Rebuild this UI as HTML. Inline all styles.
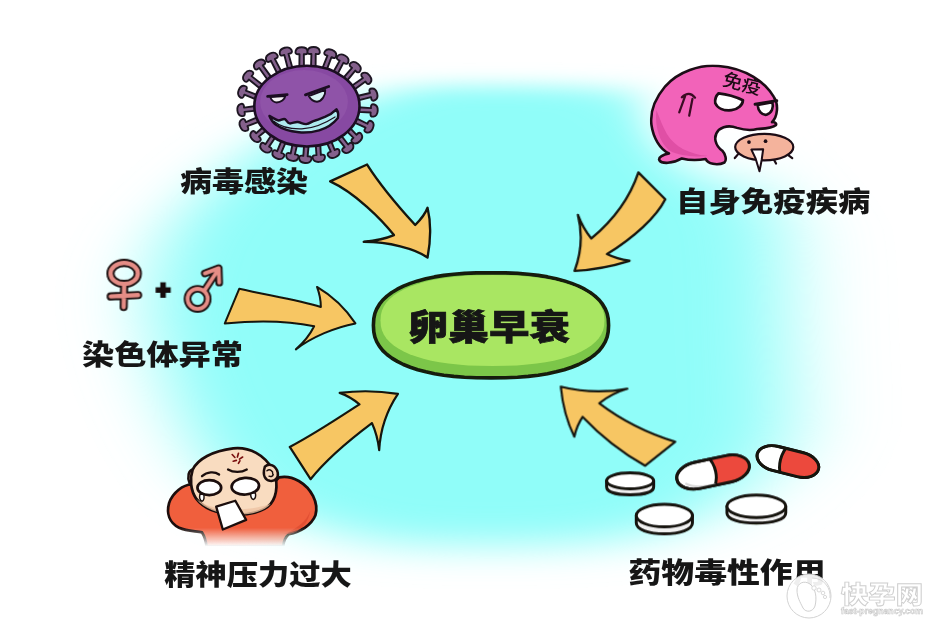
<!DOCTYPE html>
<html lang="zh-CN">
<head>
<meta charset="utf-8">
<title>卵巢早衰</title>
<style>
html,body{margin:0;padding:0;background:#fff;}
body{width:935px;height:625px;overflow:hidden;font-family:"Liberation Sans","Noto Sans CJK SC",sans-serif;}
svg{display:block;}
.lbl{font-family:"Liberation Sans","Noto Sans CJK SC",sans-serif;font-weight:900;fill:#161616;}
.ttl{font-family:"Liberation Sans","Noto Sans CJK SC",sans-serif;font-weight:900;fill:#141414;}
.ar{fill:#f7c663;stroke:#15150f;stroke-width:10.5;stroke-linejoin:round;}
</style>
</head>
<body>
<svg width="935" height="625" viewBox="0 0 935 625">
<defs>
<filter id="halo" x="-50%" y="-50%" width="200%" height="200%"><feGaussianBlur stdDeviation="20"/></filter>
<filter id="bTL" x="-30%" y="-30%" width="160%" height="160%"><feGaussianBlur stdDeviation="40 10"/></filter>
<filter id="bTR" x="-30%" y="-30%" width="160%" height="160%"><feGaussianBlur stdDeviation="47 10"/></filter>
<filter id="bBL" x="-30%" y="-30%" width="160%" height="160%"><feGaussianBlur stdDeviation="40 18"/></filter>
<filter id="bBR" x="-30%" y="-30%" width="160%" height="160%"><feGaussianBlur stdDeviation="47 18"/></filter>
<filter id="soft" x="0" y="0" width="935" height="625" filterUnits="userSpaceOnUse"><feGaussianBlur stdDeviation="0.55"/></filter>
<radialGradient id="egg" cx="0.45" cy="0.4" r="0.62">
<stop offset="0" stop-color="#b2e86a"/><stop offset="0.78" stop-color="#a7e162"/><stop offset="1" stop-color="#7cc848"/>
</radialGradient>
</defs>
<rect width="935" height="625" fill="#ffffff"/>
<!-- background blob -->
<defs>
<clipPath id="cTL"><rect x="-50" y="-50" width="530" height="375"/></clipPath>
<clipPath id="cTR"><rect x="480" y="-50" width="530" height="375"/></clipPath>
<clipPath id="cBL"><rect x="-50" y="325" width="530" height="400"/></clipPath>
<clipPath id="cBR"><rect x="480" y="325" width="530" height="400"/></clipPath>
</defs>
<g clip-path="url(#cTL)"><g filter="url(#bTL)"><path d="M420 85 L600 87 C650 90 690 110 718 148 C742 178 768 200 780 228 C785 255 786 290 786 315 C787 350 790 390 790 420 C788 440 782 450 775 458 C765 472 752 482 740 492 C725 505 710 514 695 521 C670 531 640 540 600 543 C560 546 530 546 500 546 C460 546 430 546 400 544 C370 542 350 538 330 531 C300 523 265 512 240 498 C225 488 218 480 213 472 C200 452 188 435 180 415 C174 400 168 390 166 382 C158 355 150 325 150 300 C150 280 156 256 170 232 C188 206 216 180 250 154 C292 124 356 97 420 85Z" fill="#90fdf9"/></g></g>
<g clip-path="url(#cTR)"><g filter="url(#bTR)"><path d="M420 85 L600 87 C650 90 690 110 718 148 C742 178 768 200 780 228 C785 255 786 290 786 315 C787 350 790 390 790 420 C788 440 782 450 775 458 C765 472 752 482 740 492 C725 505 710 514 695 521 C670 531 640 540 600 543 C560 546 530 546 500 546 C460 546 430 546 400 544 C370 542 350 538 330 531 C300 523 265 512 240 498 C225 488 218 480 213 472 C200 452 188 435 180 415 C174 400 168 390 166 382 C158 355 150 325 150 300 C150 280 156 256 170 232 C188 206 216 180 250 154 C292 124 356 97 420 85Z" fill="#90fdf9"/></g></g>
<g clip-path="url(#cBL)"><g filter="url(#bBL)"><path d="M420 85 L600 87 C650 90 690 110 718 148 C742 178 768 200 780 228 C785 255 786 290 786 315 C787 350 790 390 790 420 C788 440 782 450 775 458 C765 472 752 482 740 492 C725 505 710 514 695 521 C670 531 640 540 600 543 C560 546 530 546 500 546 C460 546 430 546 400 544 C370 542 350 538 330 531 C300 523 265 512 240 498 C225 488 218 480 213 472 C200 452 188 435 180 415 C174 400 168 390 166 382 C158 355 150 325 150 300 C150 280 156 256 170 232 C188 206 216 180 250 154 C292 124 356 97 420 85Z" fill="#90fdf9"/></g></g>
<g clip-path="url(#cBR)"><g filter="url(#bBR)"><path d="M420 85 L600 87 C650 90 690 110 718 148 C742 178 768 200 780 228 C785 255 786 290 786 315 C787 350 790 390 790 420 C788 440 782 450 775 458 C765 472 752 482 740 492 C725 505 710 514 695 521 C670 531 640 540 600 543 C560 546 530 546 500 546 C460 546 430 546 400 544 C370 542 350 538 330 531 C300 523 265 512 240 498 C225 488 218 480 213 472 C200 452 188 435 180 415 C174 400 168 390 166 382 C158 355 150 325 150 300 C150 280 156 256 170 232 C188 206 216 180 250 154 C292 124 356 97 420 85Z" fill="#90fdf9"/></g></g>
<ellipse cx="738" cy="112" rx="95" ry="62" fill="#ffffff" filter="url(#halo)"/>
<g filter="url(#soft)">
<!--ARROWS-->
<g class="ar">
<g transform="translate(310,150) scale(0.2239)"><path d="M90 140 L255 65 C290 120 360 215 470 335 C495 310 515 285 525 258 C540 320 540 400 525 480 C470 440 350 410 240 410 C290 405 340 395 375 380 C320 310 200 190 90 140Z"/></g>
<g transform="translate(560,150) scale(0.2239)"><path d="M350 100 L470 220 C430 300 330 390 210 465 C240 480 275 490 310 495 C230 520 150 535 65 540 C95 460 100 370 80 290 C95 330 115 365 140 395 C230 320 310 220 350 100Z"/></g>
<g transform="translate(220,260) scale(0.1921)"><path d="M100 150 C250 185 400 205 525 245 C525 210 518 175 505 140 C590 190 655 255 705 330 C600 350 480 400 395 465 C435 430 468 390 490 345 C350 315 180 315 25 330 Z"/></g>
<g transform="translate(270,370) scale(0.208)"><path d="M95 370 C210 310 330 230 430 165 C400 140 370 122 335 110 C430 98 525 100 615 115 C565 190 530 290 525 385 C520 340 508 295 490 255 C390 330 270 430 195 525Z"/></g>
<g transform="translate(540,370) scale(0.208)"><path d="M100 80 C200 105 320 108 420 90 C370 105 322 130 285 160 C390 240 520 305 650 345 L505 460 C400 400 290 315 205 225 C185 255 172 288 165 320 C130 250 108 165 100 80Z"/></g>
</g>
<!--CENTER-->
<g>
<path d="M608.6 325.3 L608.2 331.9 L607.1 337.2 L605.2 341.9 L602.5 346.4 L599.2 350.6 L595.0 354.5 L590.2 358.1 L584.7 361.4 L578.6 364.5 L571.7 367.2 L564.3 369.7 L556.2 371.8 L547.5 373.7 L538.2 375.2 L528.2 376.4 L517.5 377.2 L505.7 377.7 L491.0 377.9 L476.3 377.7 L464.5 377.2 L453.8 376.4 L443.8 375.2 L434.5 373.7 L425.8 371.8 L417.7 369.7 L410.3 367.2 L403.4 364.5 L397.3 361.4 L391.8 358.1 L387.0 354.5 L382.8 350.6 L379.5 346.4 L376.8 341.9 L374.9 337.2 L373.8 331.9 L373.4 325.3 L373.8 318.7 L374.9 313.4 L376.8 308.7 L379.5 304.2 L382.8 300.0 L387.0 296.1 L391.8 292.5 L397.3 289.2 L403.4 286.1 L410.3 283.4 L417.7 280.9 L425.8 278.8 L434.5 276.9 L443.8 275.4 L453.8 274.2 L464.5 273.4 L476.3 272.9 L491.0 272.7 L505.7 272.9 L517.5 273.4 L528.2 274.2 L538.2 275.4 L547.5 276.9 L556.2 278.8 L564.3 280.9 L571.7 283.4 L578.6 286.1 L584.7 289.2 L590.2 292.5 L595.0 296.1 L599.2 300.0 L602.5 304.2 L605.2 308.7 L607.1 313.4 L608.2 318.7Z" fill="#7cc648" stroke="#141c0c" stroke-width="3.6" stroke-linejoin="round"/>
<path d="M604.5 320.5 L604.1 326.0 L603.0 330.4 L601.2 334.5 L598.6 338.4 L595.3 342.0 L591.3 345.4 L586.7 348.6 L581.3 351.5 L575.4 354.2 L568.8 356.6 L561.6 358.8 L553.8 360.7 L545.5 362.3 L536.6 363.6 L527.1 364.6 L516.9 365.4 L505.9 365.8 L492.5 366.0 L479.1 365.8 L468.1 365.4 L457.9 364.6 L448.4 363.6 L439.5 362.3 L431.2 360.7 L423.4 358.8 L416.2 356.6 L409.6 354.2 L403.7 351.5 L398.3 348.6 L393.7 345.4 L389.7 342.0 L386.4 338.4 L383.8 334.5 L382.0 330.4 L380.9 326.0 L380.5 320.5 L380.9 315.0 L382.0 310.6 L383.8 306.5 L386.4 302.6 L389.7 299.0 L393.7 295.6 L398.3 292.4 L403.7 289.5 L409.6 286.8 L416.2 284.4 L423.4 282.2 L431.2 280.3 L439.5 278.7 L448.4 277.4 L457.9 276.4 L468.1 275.6 L479.1 275.2 L492.5 275.0 L505.9 275.2 L516.9 275.6 L527.1 276.4 L536.6 277.4 L545.5 278.7 L553.8 280.3 L561.6 282.2 L568.8 284.4 L575.4 286.8 L581.3 289.5 L586.7 292.4 L591.3 295.6 L595.3 299.0 L598.6 302.6 L601.2 306.5 L603.0 310.6 L604.1 315.0Z" fill="#a9e662"/>
<text class="ttl" x="408" y="339.5" font-size="35" textLength="162" stroke="#141414" stroke-width="0.7" lengthAdjust="spacingAndGlyphs">卵巢早衰</text>
</g>
<!--VIRUS-->
<g transform="translate(250,60) scale(0.1441)">
<g fill="#84618c" stroke="#1c1420" stroke-width="13" stroke-linejoin="round">
<g transform="translate(758.6,344.6) rotate(3.4)"><path d="M-12 -16 L80 -15 C76 -40 86 -46 102 -42 C126 -36 128 -16 128 0 C128 16 126 36 102 42 C86 46 76 40 80 15 L-12 16Z"/></g>
<g transform="translate(735.2,421.4) rotate(25.3)"><path d="M-12 -16 L81 -15 C77 -40 87 -46 103 -42 C127 -36 129 -16 129 0 C129 16 127 36 103 42 C87 46 77 40 81 15 L-12 16Z"/></g>
<g transform="translate(687.6,487.4) rotate(45.7)"><path d="M-12 -16 L59 -15 C55 -40 65 -46 81 -42 C105 -36 107 -16 107 0 C107 16 105 36 81 42 C65 46 55 40 59 15 L-12 16Z"/></g>
<g transform="translate(624.1,538.0) rotate(52.4)"><path d="M-12 -16 L73 -15 C69 -40 79 -46 95 -42 C119 -36 121 -16 121 0 C121 16 119 36 95 42 C79 46 69 40 73 15 L-12 16Z"/></g>
<g transform="translate(550.4,573.4) rotate(67.3)"><path d="M-12 -16 L62 -15 C58 -40 68 -46 84 -42 C108 -36 110 -16 110 0 C110 16 108 36 84 42 C68 46 58 40 62 15 L-12 16Z"/></g>
<g transform="translate(472.4,593.6) rotate(86.5)"><path d="M-12 -16 L66 -15 C62 -40 72 -46 88 -42 C112 -36 114 -16 114 0 C114 16 112 36 88 42 C72 46 62 40 66 15 L-12 16Z"/></g>
<g transform="translate(390.4,600.0) rotate(94.6)"><path d="M-12 -16 L67 -15 C63 -40 73 -46 89 -42 C113 -36 115 -16 115 0 C115 16 113 36 89 42 C73 46 63 40 67 15 L-12 16Z"/></g>
<g transform="translate(309.8,592.3) rotate(102.1)"><path d="M-12 -16 L61 -15 C57 -40 67 -46 83 -42 C107 -36 109 -16 109 0 C109 16 107 36 83 42 C67 46 57 40 61 15 L-12 16Z"/></g>
<g transform="translate(231.3,570.3) rotate(112.7)"><path d="M-12 -16 L74 -15 C70 -40 80 -46 96 -42 C120 -36 122 -16 122 0 C122 16 120 36 96 42 C80 46 70 40 74 15 L-12 16Z"/></g>
<g transform="translate(158.8,533.5) rotate(123.3)"><path d="M-12 -16 L71 -15 C67 -40 77 -46 93 -42 C117 -36 119 -16 119 0 C119 16 117 36 93 42 C77 46 67 40 71 15 L-12 16Z"/></g>
<g transform="translate(97.0,481.7) rotate(139.4)"><path d="M-12 -16 L59 -15 C55 -40 65 -46 81 -42 C105 -36 107 -16 107 0 C107 16 105 36 81 42 C65 46 55 40 59 15 L-12 16Z"/></g>
<g transform="translate(51.6,414.8) rotate(158.0)"><path d="M-12 -16 L81 -15 C77 -40 87 -46 103 -42 C127 -36 129 -16 129 0 C129 16 127 36 103 42 C87 46 77 40 81 15 L-12 16Z"/></g>
<g transform="translate(30.7,336.7) rotate(173.2)"><path d="M-12 -16 L71 -15 C67 -40 77 -46 93 -42 C117 -36 119 -16 119 0 C119 16 117 36 93 42 C77 46 67 40 71 15 L-12 16Z"/></g>
<g transform="translate(39.8,255.5) rotate(-158.5)"><path d="M-12 -16 L79 -15 C75 -40 85 -46 101 -42 C125 -36 127 -16 127 0 C127 16 125 36 101 42 C85 46 75 40 79 15 L-12 16Z"/></g>
<g transform="translate(76.3,183.6) rotate(-141.3)"><path d="M-12 -16 L96 -15 C92 -40 102 -46 118 -42 C142 -36 144 -16 144 0 C144 16 142 36 118 42 C102 46 92 40 96 15 L-12 16Z"/></g>
<g transform="translate(132.9,125.1) rotate(-125.8)"><path d="M-12 -16 L97 -15 C93 -40 103 -46 119 -42 C143 -36 145 -16 145 0 C145 16 143 36 119 42 C103 46 93 40 97 15 L-12 16Z"/></g>
<g transform="translate(201.4,82.7) rotate(-116.9)"><path d="M-12 -16 L94 -15 C90 -40 100 -46 116 -42 C140 -36 142 -16 142 0 C142 16 140 36 116 42 C100 46 90 40 94 15 L-12 16Z"/></g>
<g transform="translate(277.9,54.8) rotate(-105.2)"><path d="M-12 -16 L97 -15 C93 -40 103 -46 119 -42 C143 -36 145 -16 145 0 C145 16 143 36 119 42 C103 46 93 40 97 15 L-12 16Z"/></g>
<g transform="translate(358.4,41.4) rotate(-89.9)"><path d="M-12 -16 L82 -15 C78 -40 88 -46 104 -42 C128 -36 130 -16 130 0 C130 16 128 36 104 42 C88 46 78 40 82 15 L-12 16Z"/></g>
<g transform="translate(439.6,42.1) rotate(-89.0)"><path d="M-12 -16 L84 -15 C80 -40 90 -46 106 -42 C130 -36 132 -16 132 0 C132 16 130 36 106 42 C90 46 80 40 84 15 L-12 16Z"/></g>
<g transform="translate(519.7,56.9) rotate(-68.8)"><path d="M-12 -16 L88 -15 C84 -40 94 -46 110 -42 C134 -36 136 -16 136 0 C136 16 134 36 110 42 C94 46 84 40 88 15 L-12 16Z"/></g>
<g transform="translate(595.4,86.0) rotate(-61.7)"><path d="M-12 -16 L85 -15 C81 -40 91 -46 107 -42 C131 -36 133 -16 133 0 C133 16 131 36 107 42 C91 46 81 40 85 15 L-12 16Z"/></g>
<g transform="translate(663.4,130.3) rotate(-50.1)"><path d="M-12 -16 L87 -15 C83 -40 93 -46 109 -42 C133 -36 135 -16 135 0 C135 16 133 36 109 42 C93 46 83 40 87 15 L-12 16Z"/></g>
<g transform="translate(718.6,190.5) rotate(-36.0)"><path d="M-12 -16 L91 -15 C87 -40 97 -46 113 -42 C137 -36 139 -16 139 0 C139 16 137 36 113 42 C97 46 87 40 91 15 L-12 16Z"/></g>
<g transform="translate(752.6,264.1) rotate(-13.9)"><path d="M-12 -16 L86 -15 C82 -40 92 -46 108 -42 C132 -36 134 -16 134 0 C134 16 132 36 108 42 C92 46 82 40 86 15 L-12 16Z"/></g>
</g>
<ellipse cx="395" cy="320" rx="365" ry="280" fill="#874aa2" stroke="#1a1020" stroke-width="18"/>
<ellipse cx="375" cy="290" rx="305" ry="220" fill="#9355ab" opacity="0.7"/>
<path d="M140 257 L245 250 C240 275 215 295 185 295 C165 293 148 278 140 257Z" fill="#f4f0f4" stroke="#1a1020" stroke-width="13" stroke-linejoin="round"/>
<path d="M122 252 L258 240" stroke="#1a1020" stroke-width="19" stroke-linecap="round" fill="none"/>
<path d="M408 250 L522 208 C525 245 500 285 465 290 C440 288 420 272 408 250Z" fill="#d8f4f4" stroke="#1a1020" stroke-width="13" stroke-linejoin="round"/>
<path d="M385 242 L546 184" stroke="#1a1020" stroke-width="20" stroke-linecap="round" fill="none"/>
<path d="M135 388 C160 400 180 418 198 420 C215 420 228 405 242 410 C256 418 258 438 275 440 C295 442 310 428 330 430 C352 432 368 446 390 445 C415 442 430 425 452 420 C480 412 500 402 520 395 C550 382 580 362 600 342 C612 360 614 382 610 402 C580 440 540 470 480 488 C430 502 380 506 340 502 C280 496 220 478 180 450 C160 435 145 412 135 388Z" fill="#aeeaf0" stroke="#1a1020" stroke-width="17" stroke-linejoin="round"/>
<path d="M165 425 C220 470 300 480 360 478 C440 474 520 440 590 395" stroke="#1a1020" stroke-width="8" fill="none" stroke-linecap="round"/>
</g>
<!--BLOB-->
<g transform="translate(645,55) scale(0.18405)" stroke-linejoin="round" stroke-linecap="round">
<path d="M400 60 C300 50 180 90 110 170 C60 230 25 300 35 380 C45 450 80 510 130 535 C100 540 70 555 78 572 C90 592 150 592 200 562 C240 572 290 572 330 565 C340 590 390 604 432 584 C445 570 438 540 420 520 C385 495 365 445 400 408 C430 385 470 385 500 396 C540 408 580 410 610 402 C640 400 690 400 712 380 C716 368 700 362 690 365 C720 335 728 270 700 228 C655 150 550 72 400 60Z" fill="#f263b9" stroke="#1c0a14" stroke-width="14"/>
<path d="M62 300 C50 400 90 500 150 528 C210 550 300 555 340 548 C250 540 160 500 120 430 C95 390 80 340 62 300Z" fill="#d9489f" opacity="0.75"/>
<path d="M400 208 C440 212 490 225 532 246 C530 272 505 296 470 300 C430 304 395 290 382 262 C378 240 388 220 400 208Z" fill="#ffffff" stroke="#1c0a14" stroke-width="15"/>
<path d="M612 272 L692 256 C700 285 690 315 660 325 C635 328 615 305 612 272Z" fill="#ffffff" stroke="#1c0a14" stroke-width="14"/>
<path d="M598 268 L716 248" stroke="#1c0a14" stroke-width="16" fill="none"/>
<path d="M186 312 L218 224 M200 230 Q240 192 272 232 M258 238 L240 330" stroke="#3a0a24" stroke-width="12" fill="none"/>
<text transform="translate(415,165) rotate(14)" font-size="100" font-family="'Liberation Sans','Noto Sans CJK SC',sans-serif" font-weight="500" fill="#1c0a14" textLength="215" lengthAdjust="spacingAndGlyphs">免疫</text>
<!-- small creature -->
<path d="M505 540 L488 560 M700 568 L712 590 M780 545 L800 560" stroke="#1c0a14" stroke-width="12" fill="none"/>
<ellipse cx="648" cy="500" rx="158" ry="72" fill="#f4b39c" stroke="#1c0a14" stroke-width="12"/>
<circle cx="565" cy="473" r="10" fill="#1c0a14"/><circle cx="655" cy="468" r="10" fill="#1c0a14"/>
<path d="M578 514 L642 512 L634 570 L622 632 L600 560Z" fill="#ffffff" stroke="#1c0a14" stroke-width="11"/>
</g>
<!--GENDER-->
<g transform="translate(80,235) scale(0.24)" stroke-linejoin="round" stroke-linecap="round">
<!-- female: outline then colour -->
<g fill="none" stroke="#1c1212" stroke-width="34">
<ellipse cx="184" cy="160" rx="57" ry="44"/>
<path d="M184 206 L182 300 M128 256 L242 250"/>
</g>
<g fill="none" stroke="#e58d86" stroke-width="18">
<ellipse cx="184" cy="160" rx="57" ry="44"/>
<path d="M184 206 L182 300 M128 256 L242 250"/>
</g>
<!-- plus -->
<path d="M346 197 L346 261 M315 229 L378 229" stroke="#14100f" stroke-width="23" fill="none" stroke-linecap="butt"/>
<!-- male -->
<g fill="none" stroke="#1c1212" stroke-width="32">
<circle cx="490" cy="266" r="42"/>
<path d="M518 232 L572 150 M520 160 L578 138 L580 198"/>
</g>
<g fill="none" stroke="#e58d86" stroke-width="16">
<circle cx="490" cy="266" r="42"/>
<path d="M518 232 L572 150 M520 160 L578 138 L580 198"/>
</g>
</g>
<!--MAN-->
<defs>
<linearGradient id="manfade" gradientUnits="userSpaceOnUse" x1="0" y1="470" x2="0" y2="560">
<stop offset="0" stop-color="#fff"/><stop offset="1" stop-color="#000"/>
</linearGradient>
<mask id="manmask" maskUnits="userSpaceOnUse" x="0" y="0" width="913" height="625"><rect x="0" y="0" width="913" height="625" fill="url(#manfade)"/></mask>
</defs>
<g transform="translate(150,430) scale(0.2081)" stroke-linejoin="round" stroke-linecap="round">
<!-- body -->
<g mask="url(#manmask)">
<path d="M200 262 C160 262 110 300 92 350 C78 400 92 445 140 470 C180 488 225 485 250 492 C262 510 268 530 272 560 L640 560 C642 535 650 515 668 500 C720 490 775 460 795 410 C812 350 775 280 715 245 C685 228 650 222 620 228 C560 300 420 380 300 380 C250 350 215 305 200 262Z" fill="#f05e3e" stroke="#1a0e0a" stroke-width="13"/>
<path d="M640 500 C700 480 750 440 770 390 C760 450 720 490 668 500Z" fill="#d9472c" opacity="0.6"/>
</g>
<!-- ears -->
<path d="M205 190 C185 195 178 225 190 255 L205 262Z" fill="#f8d8bc" stroke="#1a0e0a" stroke-width="12"/>
<!-- head -->
<path d="M205 190 C230 140 300 100 400 88 C480 80 550 120 590 190 C615 240 615 310 580 355 C545 395 470 410 400 405 C330 402 260 380 222 330 C195 290 190 235 205 190Z" fill="#f9dcc0" stroke="#1a0e0a" stroke-width="13"/>
<path d="M580 355 C545 395 470 410 400 405 C330 402 260 380 222 330 C260 365 340 385 420 382 C490 380 545 365 580 355Z" fill="#eec3a3" opacity="0.8"/>
<path d="M552 176 C572 156 606 170 614 205 C618 230 602 248 576 244 C556 240 538 222 552 176Z" fill="#f8d8bc" stroke="#1a0e0a" stroke-width="12"/>
<path d="M562 196 C575 185 592 195 590 212 M572 222 C582 226 590 222 592 214" fill="none" stroke="#1a0e0a" stroke-width="7"/>
<!-- brows -->
<path d="M250 222 C275 200 310 198 332 214" fill="none" stroke="#1a0e0a" stroke-width="11"/>
<path d="M375 190 C400 205 440 205 465 190" fill="none" stroke="#1a0e0a" stroke-width="11"/>
<!-- anger mark -->
<path d="M395 118 L408 132 M425 112 L420 130 M445 130 L430 140 M400 150 L415 146 M425 160 L432 148" fill="none" stroke="#7a1010" stroke-width="8"/>
<!-- eyes -->
<ellipse cx="285" cy="277" rx="57" ry="36" fill="#fff" stroke="#1a0e0a" stroke-width="13"/>
<ellipse cx="458" cy="270" rx="66" ry="40" fill="#fff" stroke="#1a0e0a" stroke-width="13" transform="rotate(-4 458 270)"/>
<!-- tears -->
<path d="M240 308 C236 325 240 340 250 342 C260 340 262 322 258 310Z" fill="#fff" stroke="#1a0e0a" stroke-width="7"/>
<path d="M485 305 C482 320 488 333 497 334 C507 332 510 315 506 302Z" fill="#fff" stroke="#1a0e0a" stroke-width="7"/>
<!-- paper -->
<path d="M318 368 L410 340 L462 432 L350 478 Z" fill="#ffffff" stroke="#1a0e0a" stroke-width="11"/>
<!-- fade -->
</g>
<!--PILLS-->
<g transform="translate(590,430) scale(0.2674)" stroke="#15120f" stroke-width="11" stroke-linejoin="round">
<!-- tablets -->
<path d="M62 190 L62 212 C62 232 100 242 150 242 C200 242 238 232 238 212 L238 190Z" fill="#f1f1f1"/>
<ellipse cx="150" cy="190" rx="88" ry="30" fill="#ffffff"/>
<path d="M173 320 L173 348 C173 372 220 388 278 388 C336 388 383 372 383 348 L383 320Z" fill="#f1f1f1"/>
<ellipse cx="278" cy="320" rx="105" ry="42" fill="#ffffff"/>
<path d="M512 285 L512 310 C512 334 560 348 622 348 C684 348 732 334 732 310 L732 285Z" fill="#f1f1f1"/>
<ellipse cx="622" cy="285" rx="110" ry="42" fill="#ffffff"/>
<!-- capsule 1 -->
<g transform="translate(460,157) rotate(-12)">
<clipPath id="cap1"><rect x="-138" y="-50" width="276" height="100" rx="78" ry="50"/></clipPath>
<rect x="-138" y="-50" width="276" height="100" rx="78" ry="50" fill="#ffffff"/>
<path d="M-8 -60 L150 -60 L150 60 L-8 60 C16 25 16 -25 -8 -60Z" fill="#ec4a3c" clip-path="url(#cap1)"/>
<path d="M-110 20 C-80 45 -30 48 0 47" fill="none" stroke="#d8d8d8" stroke-width="8" clip-path="url(#cap1)"/>
<rect x="-138" y="-50" width="276" height="100" rx="78" ry="50" fill="none"/>
</g>
<!-- capsule 2 -->
<g transform="translate(740,118) rotate(14)">
<clipPath id="cap2"><rect x="-118" y="-46" width="236" height="92" rx="70" ry="46"/></clipPath>
<rect x="-118" y="-46" width="236" height="92" rx="70" ry="46" fill="#ffffff"/>
<path d="M-12 -60 L130 -60 L130 60 L-12 60 C-34 25 -34 -25 -12 -60Z" fill="#ec4a3c" clip-path="url(#cap2)"/>
<rect x="-118" y="-46" width="236" height="92" rx="70" ry="46" fill="none"/>
</g>
</g>
<!--LABELS-->
<g class="lbl" font-size="28">
<text x="180" y="191.5" textLength="128" lengthAdjust="spacingAndGlyphs">病毒感染</text>
<text x="676" y="212" textLength="194.5" lengthAdjust="spacingAndGlyphs">自身免疫疾病</text>
<text x="82" y="365.3" textLength="161" lengthAdjust="spacingAndGlyphs">染色体异常</text>
<text x="164.3" y="585" textLength="187.5" lengthAdjust="spacingAndGlyphs">精神压力过大</text>
<text x="628.5" y="583.2" textLength="197" lengthAdjust="spacingAndGlyphs">药物毒性作用</text>
</g>
<!--WATERMARK-->
<g>
<circle cx="809" cy="596" r="22" fill="#ffffff" fill-opacity="0.93" stroke="#d2d2d2" stroke-width="1"/>
<path d="M797 590 C797 583 804 580 810 584 C816 589 817 598 815 606 C813 612 806 613 803 608 C800 602 797 597 797 590Z" fill="#ffffff" stroke="#cfcfcf" stroke-width="1"/>
<circle cx="814" cy="588" r="2.2" fill="#fff" stroke="#cfcfcf" stroke-width="0.8"/><circle cx="819" cy="590" r="2" fill="#fff" stroke="#cfcfcf" stroke-width="0.8"/><circle cx="823" cy="593" r="1.8" fill="#fff" stroke="#cfcfcf" stroke-width="0.8"/><circle cx="825" cy="597" r="1.6" fill="#fff" stroke="#cfcfcf" stroke-width="0.8"/>
<path d="M812 578 C824 578 831 588 830 598" fill="none" stroke="#d6d6d6" stroke-width="1"/>
<text x="841" y="603" font-size="24" font-weight="900" font-family="'Liberation Sans','Noto Sans CJK SC',sans-serif" fill="#ffffff" stroke="#cfcfcf" stroke-width="0.9" textLength="82" lengthAdjust="spacingAndGlyphs">快孕网</text>
<text x="841" y="614" font-size="8.5" font-weight="700" font-family="'Liberation Sans',sans-serif" fill="#ffffff" stroke="#c8c8c8" stroke-width="0.6" textLength="82" lengthAdjust="spacingAndGlyphs">fast-pregnancy.com</text>
</g>
</g>
</svg>
</body>
</html>
